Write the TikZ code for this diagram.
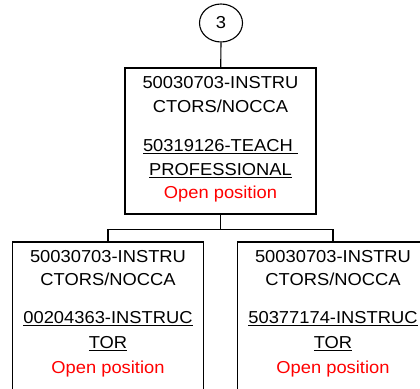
\documentclass[tikz,border=0pt]{standalone}
\usepackage{fontspec}
\setmainfont{Liberation Sans}[FakeStretch=1.06]
\usetikzlibrary{shapes.geometric,calc}
\newcommand\myul[1]{\leavevmode\vtop{\hbox{#1}\kern1.2pt\hrule height 1.3pt}}
\definecolor{openred}{RGB}{255,0,0}
\tikzset{
  box/.style={draw=black, line width=1.2pt, rectangle, inner sep=0pt, minimum width=191pt},
  conn/.style={draw=black, line width=1.2pt},
  txt/.style={anchor=base, inner sep=0pt, font=\fontsize{17.3}{20}\selectfont},
  opentxt/.style={txt, text=openred},
  bubble/.style={draw=black, line width=1.1pt, ellipse, inner sep=0pt, minimum width=43pt, minimum height=38pt, font=\fontsize{17.3}{20}\selectfont}
}
\begin{document}
\begin{tikzpicture}[x=1pt, y=-1pt]
\clip (0,0) rectangle (420,388);
\fill[white] (0,0) rectangle (420,388);
% nodes
\node[bubble] (c3) at (221,23) {3};
\node[box, minimum height=146pt] (top) at (220.5,141) {};
\node[box, minimum height=170pt] (left) at (108,327) {};
\node[box, minimum height=170pt] (right) at (333,327) {};
% texts top
\node[txt] (t1) at ($(top.north)+(0,21)$) {50030703-INSTRU};
\node[txt] (t2) at ($(top.north)+(0,45.3)$) {CTORS/NOCCA};
\node[txt] (t3) at ($(top.north)+(0,84.4)$) {\myul{50319126-TEACH\ }};
\node[txt] (t4) at ($(top.north)+(0,108.4)$) {\myul{PROFESSIONAL}};
\node[opentxt] (t5) at ($(top.north)+(0,131.5)$) {Open position};
% texts left
\node[txt] (l1) at ($(left.north)+(0,20.7)$) {50030703-INSTRU};
\node[txt] (l2) at ($(left.north)+(0,44)$) {CTORS/NOCCA};
\node[txt] (l3) at ($(left.north)+(0,82.3)$) {\myul{00204363-INSTRUC}};
\node[txt] (l4) at ($(left.north)+(0,107.2)$) {\myul{TOR}};
\node[opentxt] (l5) at ($(left.north)+(0,132.2)$) {Open position};
% texts right
\node[txt] (r1) at ($(right.north)+(0,20.7)$) {50030703-INSTRU};
\node[txt] (r2) at ($(right.north)+(0,44)$) {CTORS/NOCCA};
\node[txt] (r3) at ($(right.north)+(0,82.3)$) {\myul{50377174-INSTRUC}};
\node[txt] (r4) at ($(right.north)+(0,107.2)$) {\myul{TOR}};
\node[opentxt] (r5) at ($(right.north)+(0,132.2)$) {Open position};
% connectors
\draw[conn] (c3) -- (top);
\coordinate (bus) at ($(top.south)+(0,15)$);
\draw[conn] (top.south) -- (bus) -| (left.north);
\draw[conn] (bus) -| (right.north);
\end{tikzpicture}
\end{document}
